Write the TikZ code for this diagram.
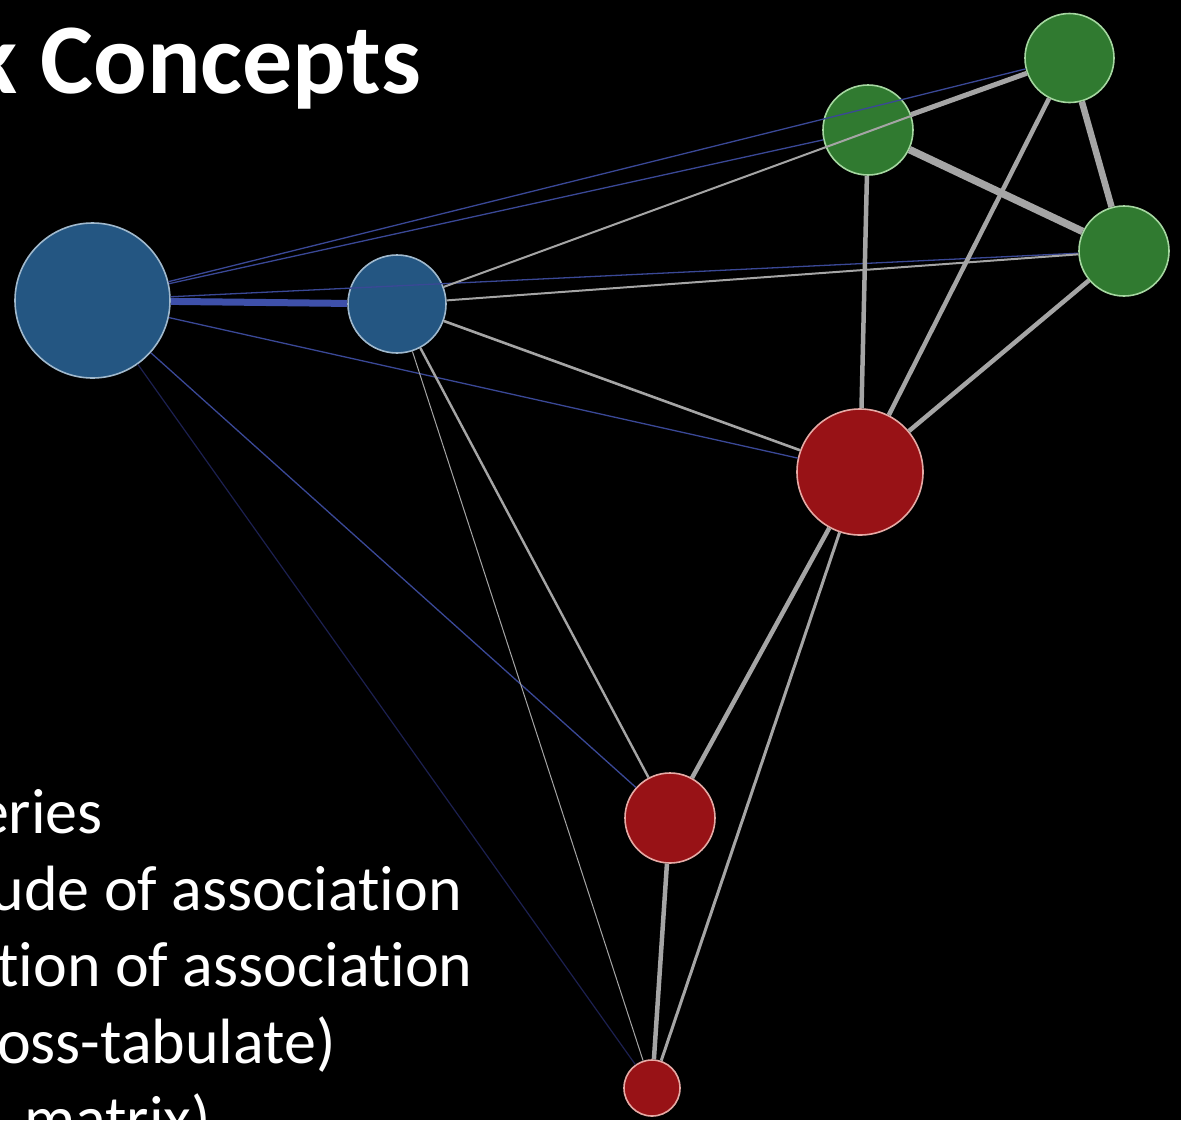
\documentclass[tikz,border=0pt]{standalone}
\usepackage{fontspec}
\setmainfont{Carlito}[Ligatures={NoCommon,NoContextual}]
\begin{document}
\begin{tikzpicture}[x=1pt,y=-1pt,
  vtx/.style={circle,inner sep=0pt,line width=1.6pt},
  bluev/.style={vtx,fill=nblue,draw=bblue},
  greenv/.style={vtx,fill=ngreen,draw=bgreen},
  redv/.style={vtx,fill=nred,draw=bred},
  be/.style={draw=eblue,line width=1.3pt},
  ge/.style={draw=egray},
  txt/.style={text=white,inner sep=0pt,anchor=base east,font=\fontsize{64}{70}\selectfont}
]
\definecolor{nblue}{RGB}{36,86,130}
\definecolor{bblue}{RGB}{160,185,205}
\definecolor{ngreen}{RGB}{48,122,48}
\definecolor{bgreen}{RGB}{165,215,160}
\definecolor{nred}{RGB}{152,18,22}
\definecolor{bred}{RGB}{230,170,165}
\definecolor{eblue}{RGB}{58,72,150}
\definecolor{eblueb}{RGB}{62,80,170}
\definecolor{edark}{RGB}{28,32,80}
\definecolor{egray}{RGB}{165,165,165}
\fill[black] (0,0) rectangle (1181,1120);
\useasboundingbox (0,0) rectangle (1181,1120);

% title and text
\node[txt,font=\fontsize{100}{110}\selectfont\bfseries] (title) at (421,93) {k Concepts};
\node[txt] (l1) at (103,833) {eries};
\node[txt] (l2) at (462,910) {ude of association};
\node[txt] (l3) at (473,986) {tion of association};
\node[txt] (l4) at (336,1063) {oss-tabulate)};
\node[txt] (l5) at (211,1140) {matrix)};

% nodes
\node[bluev,minimum size=155pt] (B1) at (92.5,300.5) {};
\node[bluev,minimum size=98pt] (B2) at (397,304) {};
\node[greenv,minimum size=90pt] (G1) at (868,130) {};
\node[greenv,minimum size=89pt] (G2) at (1069.5,58) {};
\node[greenv,minimum size=90pt] (G3) at (1124,251) {};
\node[redv,minimum size=126pt] (R1) at (860,472) {};
\node[redv,minimum size=90pt] (R2) at (670,818) {};
\node[redv,minimum size=56pt] (R3) at (652,1088) {};

% blue edges
\draw[draw=eblueb,line width=7pt] (B1) -- (B2);
\draw[be] (B1) -- (G1);
\draw[be] (B1) -- (G2);
\draw[be] (B1) -- (G3);
\draw[be] (B1) -- (R1);
\draw[be] (B1) -- (R2);
\draw[draw=edark,line width=1.2pt] (B1) -- (R3);

% gray edges
\draw[ge,line width=2pt] (B2) -- (G2);
\draw[ge,line width=2pt] (B2) -- (G3);
\draw[ge,line width=2.6pt] (B2) -- (R1);
\draw[ge,line width=2.4pt] (B2) -- (R2);
\draw[ge,line width=1pt] (B2) -- (R3);
\draw[ge,line width=5pt] (G1) -- (G2);
\draw[ge,line width=7.5pt] (G1) -- (G3);
\draw[ge,line width=6.5pt] (G2) -- (G3);
\draw[ge,line width=4.5pt] (G1) -- (R1);
\draw[ge,line width=4.5pt] (G2) -- (R1);
\draw[ge,line width=4.5pt] (G3) -- (R1);
\draw[ge,line width=4.5pt] (R1) -- (R2);
\draw[ge,line width=3pt] (R1) -- (R3);
\draw[ge,line width=4.5pt] (R2) -- (R3);
\end{tikzpicture}
\end{document}
